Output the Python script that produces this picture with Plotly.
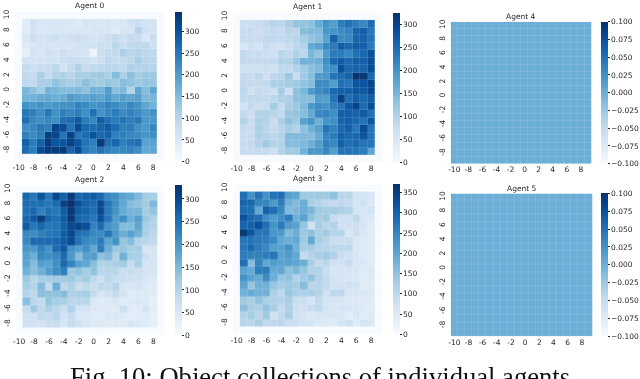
import numpy as np
import plotly.graph_objects as go

W = 640
H = 379

x_labels = list(range(-10, 10))
y_labels = list(range(10, -10, -1))
x_ticks = list(range(-10, 10, 2))
y_ticks = list(range(10, -10, -2))
x_text = [str(v) for v in x_ticks]
y_text = [str(v) for v in y_ticks]

# rows go from y=9 down to y=-8, columns from x=-9 to x=8 (outer ring of the map is empty)
agent_0 = [
    [40, 70, 55, 55, 55, 53, 50, 45, 60, 53, 50, 60, 50, 50, 70, 75, 65, 60],
    [45, 65, 50, 50, 55, 53, 55, 57, 53, 60, 60, 55, 45, 60, 60, 105, 70, 65],
    [50, 75, 60, 65, 75, 63, 70, 75, 70, 60, 65, 75, 85, 70, 85, 80, 55, 80],
    [45, 55, 60, 60, 60, 60, 55, 65, 65, 65, 75, 70, 100, 75, 90, 95, 95, 70],
    [30, 65, 55, 70, 60, 75, 65, 65, 60, 20, 75, 85, 85, 115, 100, 105, 95, 90],
    [65, 60, 65, 65, 65, 75, 80, 75, 75, 65, 75, 95, 80, 85, 95, 120, 100, 100],
    [85, 75, 80, 80, 95, 65, 85, 110, 85, 95, 95, 100, 100, 95, 110, 105, 105, 105],
    [90, 85, 115, 85, 105, 110, 100, 120, 115, 125, 130, 115, 150, 115, 145, 120, 130, 130],
    [95, 90, 115, 115, 140, 125, 115, 125, 145, 130, 125, 135, 130, 150, 140, 130, 135, 135],
    [160, 145, 125, 165, 160, 150, 150, 155, 140, 165, 165, 200, 145, 155, 105, 185, 150, 185],
    [165, 165, 175, 180, 170, 175, 200, 190, 185, 195, 185, 205, 180, 195, 185, 195, 155, 160],
    [215, 205, 215, 205, 210, 215, 215, 235, 225, 210, 220, 235, 225, 210, 230, 215, 185, 165],
    [250, 240, 220, 250, 215, 240, 230, 240, 220, 260, 215, 230, 245, 225, 235, 225, 205, 215],
    [260, 230, 220, 230, 220, 260, 265, 290, 245, 230, 285, 260, 245, 255, 240, 250, 205, 205],
    [220, 230, 250, 240, 320, 310, 255, 310, 270, 265, 275, 290, 265, 240, 245, 215, 205, 230],
    [240, 225, 240, 325, 315, 255, 320, 255, 265, 300, 270, 280, 240, 240, 230, 225, 210, 220],
    [280, 245, 280, 330, 295, 295, 320, 295, 255, 240, 330, 260, 275, 240, 255, 260, 190, 190],
    [265, 245, 310, 330, 330, 330, 275, 310, 250, 235, 255, 240, 230, 230, 235, 220, 180, 185],
]
agent_1 = [
    [70, 70, 75, 85, 95, 90, 110, 130, 130, 135, 165, 200, 185, 230, 245, 230, 215, 250],
    [75, 80, 70, 80, 85, 80, 95, 90, 140, 145, 145, 195, 200, 210, 220, 260, 265, 235],
    [75, 75, 75, 85, 85, 85, 90, 95, 115, 130, 140, 180, 260, 210, 215, 260, 260, 240],
    [50, 70, 55, 80, 65, 60, 75, 90, 100, 170, 180, 215, 230, 270, 255, 270, 265, 235],
    [85, 75, 75, 70, 65, 95, 85, 105, 90, 150, 130, 190, 230, 230, 215, 245, 255, 285],
    [85, 80, 80, 80, 85, 100, 100, 125, 155, 155, 160, 205, 255, 270, 255, 265, 265, 290],
    [65, 65, 65, 70, 65, 85, 85, 100, 120, 135, 145, 195, 205, 285, 255, 260, 260, 290],
    [85, 75, 90, 65, 90, 95, 125, 75, 120, 140, 190, 195, 240, 250, 260, 325, 315, 255],
    [85, 80, 80, 85, 105, 105, 115, 120, 130, 140, 210, 210, 185, 245, 235, 280, 280, 300],
    [90, 65, 80, 75, 65, 115, 70, 135, 150, 190, 210, 220, 255, 265, 265, 280, 275, 295],
    [85, 85, 85, 80, 90, 105, 105, 135, 140, 140, 190, 185, 240, 305, 245, 265, 255, 270],
    [60, 85, 70, 80, 115, 80, 110, 125, 145, 195, 210, 200, 225, 240, 275, 300, 250, 290],
    [85, 70, 100, 105, 95, 85, 125, 130, 140, 170, 215, 220, 205, 265, 265, 260, 270, 245],
    [100, 75, 105, 100, 75, 110, 135, 120, 180, 200, 160, 200, 205, 260, 265, 255, 240, 275],
    [80, 75, 105, 95, 80, 95, 115, 100, 135, 160, 180, 240, 220, 255, 265, 235, 290, 240],
    [75, 75, 105, 100, 90, 100, 145, 145, 145, 140, 165, 220, 230, 265, 255, 255, 280, 240],
    [75, 85, 100, 120, 100, 100, 140, 140, 145, 160, 185, 225, 215, 265, 245, 255, 240, 240],
    [75, 75, 80, 80, 70, 100, 120, 120, 155, 195, 195, 215, 185, 240, 240, 240, 230, 175],
]
agent_2 = [
    [260, 240, 285, 240, 300, 270, 315, 260, 270, 275, 260, 220, 210, 180, 175, 150, 120, 115],
    [255, 250, 250, 240, 255, 310, 325, 290, 265, 255, 300, 240, 210, 175, 145, 135, 120, 150],
    [250, 260, 230, 250, 240, 275, 320, 275, 265, 250, 300, 235, 205, 170, 155, 155, 115, 130],
    [260, 280, 315, 265, 250, 275, 320, 260, 255, 240, 290, 240, 190, 210, 165, 185, 125, 105],
    [275, 240, 260, 240, 245, 270, 300, 305, 290, 225, 255, 205, 190, 145, 145, 175, 110, 100],
    [220, 215, 230, 240, 245, 275, 300, 250, 240, 220, 215, 240, 195, 165, 185, 160, 110, 90],
    [220, 255, 255, 255, 260, 275, 295, 245, 220, 210, 235, 180, 205, 130, 145, 100, 95, 85],
    [200, 195, 230, 205, 255, 280, 205, 190, 210, 175, 235, 165, 125, 130, 110, 115, 55, 60],
    [185, 165, 220, 210, 220, 255, 195, 145, 185, 190, 135, 145, 105, 160, 115, 110, 70, 55],
    [180, 145, 190, 180, 210, 260, 225, 185, 175, 140, 105, 105, 110, 120, 80, 110, 55, 60],
    [160, 140, 160, 190, 210, 230, 125, 135, 115, 135, 95, 95, 95, 75, 80, 70, 60, 55],
    [125, 95, 115, 115, 120, 120, 125, 105, 120, 90, 65, 95, 75, 75, 65, 65, 55, 45],
    [115, 100, 145, 85, 165, 90, 105, 75, 90, 75, 90, 85, 100, 55, 55, 60, 45, 40],
    [100, 90, 140, 135, 135, 145, 105, 110, 115, 85, 55, 65, 85, 60, 40, 45, 45, 40],
    [140, 95, 85, 130, 115, 110, 95, 95, 95, 50, 40, 45, 55, 40, 45, 50, 45, 30],
    [80, 125, 90, 110, 95, 75, 105, 60, 60, 45, 45, 45, 40, 70, 40, 35, 60, 35],
    [65, 65, 90, 85, 95, 60, 80, 50, 50, 45, 40, 50, 50, 40, 35, 40, 40, 30],
    [65, 65, 60, 75, 75, 55, 80, 65, 55, 45, 45, 40, 45, 40, 55, 45, 40, 30],
]
agent_3 = [
    [280, 230, 275, 230, 275, 280, 210, 200, 140, 135, 140, 135, 150, 105, 105, 70, 65, 60],
    [295, 295, 250, 250, 220, 260, 180, 165, 185, 125, 115, 100, 95, 100, 90, 65, 75, 55],
    [285, 280, 195, 300, 280, 245, 165, 170, 185, 170, 135, 130, 130, 120, 115, 65, 60, 70],
    [320, 290, 280, 235, 215, 235, 260, 180, 205, 150, 130, 140, 90, 75, 75, 100, 60, 55],
    [295, 300, 325, 280, 230, 265, 215, 205, 145, 75, 125, 105, 115, 75, 75, 80, 60, 45],
    [360, 315, 270, 275, 225, 220, 165, 185, 140, 155, 125, 135, 110, 110, 60, 85, 55, 45],
    [270, 275, 265, 260, 240, 195, 185, 195, 135, 195, 125, 110, 85, 80, 85, 55, 50, 45],
    [270, 290, 260, 245, 210, 205, 230, 180, 130, 130, 115, 110, 100, 100, 100, 55, 50, 45],
    [260, 255, 255, 260, 270, 205, 215, 195, 95, 115, 125, 135, 115, 85, 75, 60, 50, 45],
    [280, 160, 250, 195, 215, 205, 205, 200, 185, 125, 95, 105, 75, 70, 90, 55, 55, 45],
    [205, 190, 260, 260, 190, 195, 155, 170, 145, 115, 115, 85, 60, 65, 60, 65, 50, 50],
    [230, 205, 190, 240, 185, 145, 150, 115, 135, 150, 115, 95, 70, 65, 60, 55, 45, 50],
    [200, 145, 180, 180, 145, 130, 140, 130, 160, 105, 110, 95, 70, 70, 75, 70, 45, 45],
    [180, 190, 180, 180, 120, 100, 145, 125, 120, 125, 115, 75, 100, 100, 60, 60, 55, 50],
    [135, 125, 150, 125, 120, 115, 125, 85, 80, 60, 95, 65, 60, 60, 55, 50, 50, 45],
    [155, 125, 120, 150, 125, 95, 120, 80, 75, 90, 100, 70, 60, 65, 60, 55, 50, 45],
    [115, 130, 105, 140, 75, 100, 125, 75, 70, 55, 65, 60, 60, 60, 40, 60, 45, 50],
    [105, 105, 125, 100, 100, 105, 85, 80, 70, 70, 50, 50, 45, 65, 75, 45, 65, 55],
]
# agents 4 and 5 never collected anything
agent_4 = np.zeros((18, 18))
agent_5 = np.zeros((18, 18))

tick_0 = [0, 50, 100, 150, 200, 250, 300]
tick_3 = [0, 50, 100, 150, 200, 250, 300, 350]
tick_e = [-0.1, -0.075, -0.05, -0.025, 0, 0.025, 0.05, 0.075, 0.1]

# name, values, zmin, zmax, colorbar ticks, tick format,
# heatmap left/right/top/bottom px, colorbar left px, title y px
panels = [
    ("Agent 0", agent_0, 0, 345, tick_0, "d", 12, 163, 9, 160, 174, 3),
    ("Agent 1", agent_1, 0, 325, tick_0, "d", 232, 383, 10, 161, 394, 4),
    ("Agent 2", agent_2, 0, 330, tick_0, "d", 12.5, 163, 184, 335, 174, 178),
    ("Agent 3", agent_3, 0, 370, tick_3, "d", 232, 383, 183, 334, 394, 177),
    ("Agent 4", agent_4, -0.1, 0.1, tick_e, ".3f", 452, 594, 19, 162, 604, 14),
    ("Agent 5", agent_5, -0.1, 0.1, tick_e, ".3f", 452, 595, 192, 336, 604, 187),
]

TEXT = "#262626"
FONT = "DejaVu Sans"

fig = go.Figure()
annotations = []

for i, (name, vals, zmin, zmax, ticks, fmt, left, right, top, bottom, cb_left, title_y) in enumerate(panels):
    n = "" if i == 0 else str(i + 1)
    z = np.zeros((20, 20))
    z[1:19, 1:19] = vals
    fig.add_trace(go.Heatmap(
        z=z,
        x=x_labels,
        y=y_labels,
        xaxis="x" + n,
        yaxis="y" + n,
        zmin=zmin,
        zmax=zmax,
        colorscale="Blues",
        xgap=0.12,
        ygap=0.12,
        colorbar=dict(
            x=cb_left / W,
            xanchor="left",
            xpad=0,
            y=1 - bottom / H,
            yanchor="bottom",
            ypad=0,
            len=(bottom - top) / H,
            lenmode="fraction",
            thickness=7,
            thicknessmode="pixels",
            outlinewidth=0,
            ticks="outside",
            ticklen=2,
            tickwidth=0.6,
            tickcolor=TEXT,
            tickmode="array",
            tickvals=ticks,
            tickformat=fmt,
            tickfont=dict(family=FONT, size=7.5, color=TEXT),
        ),
    ))
    fig.update_layout({
        "xaxis" + n: dict(
            domain=[left / W, right / W],
            anchor="y" + n,
            range=[-10.5, 9.5],
            tickmode="array",
            tickvals=x_ticks,
            ticktext=x_text,
            tickangle=0,
            ticks="",
            showgrid=False,
            zeroline=False,
            showline=False,
            tickfont=dict(family=FONT, size=7.5, color=TEXT),
        ),
        "yaxis" + n: dict(
            domain=[1 - bottom / H, 1 - top / H],
            anchor="x" + n,
            range=[-9.5, 10.5],
            tickmode="array",
            tickvals=y_ticks,
            ticktext=y_text,
            ticks="",
            tickangle=-90,
            ticklabelstandoff=3,
            showgrid=False,
            zeroline=False,
            showline=False,
            tickfont=dict(family=FONT, size=7.5, color=TEXT),
        ),
    })
    annotations.append(dict(
        text=name,
        x=(left + right) / 2 / W,
        y=1 - title_y / H,
        xref="paper",
        yref="paper",
        xanchor="center",
        yanchor="middle",
        showarrow=False,
        font=dict(family=FONT, size=7.5, color=TEXT),
    ))

annotations.append(dict(
    text="Fig. 10: Object collections of individual agents",
    x=320.5 / W,
    y=1 - 377 / H,
    xref="paper",
    yref="paper",
    xanchor="center",
    yanchor="middle",
    showarrow=False,
    font=dict(family="Liberation Serif", size=26.6, color="#111111"),
))

fig.update_layout(
    width=W,
    height=H,
    margin=dict(l=0, r=0, t=0, b=0),
    paper_bgcolor="white",
    plot_bgcolor="white",
    annotations=annotations,
)

# the reference is a soft, resampled raster
post = "document.body.style.margin='0';document.body.style.filter='blur(0.35px)';"
fig.write_html("out.html", config=dict(displayModeBar=False), post_script=post)
